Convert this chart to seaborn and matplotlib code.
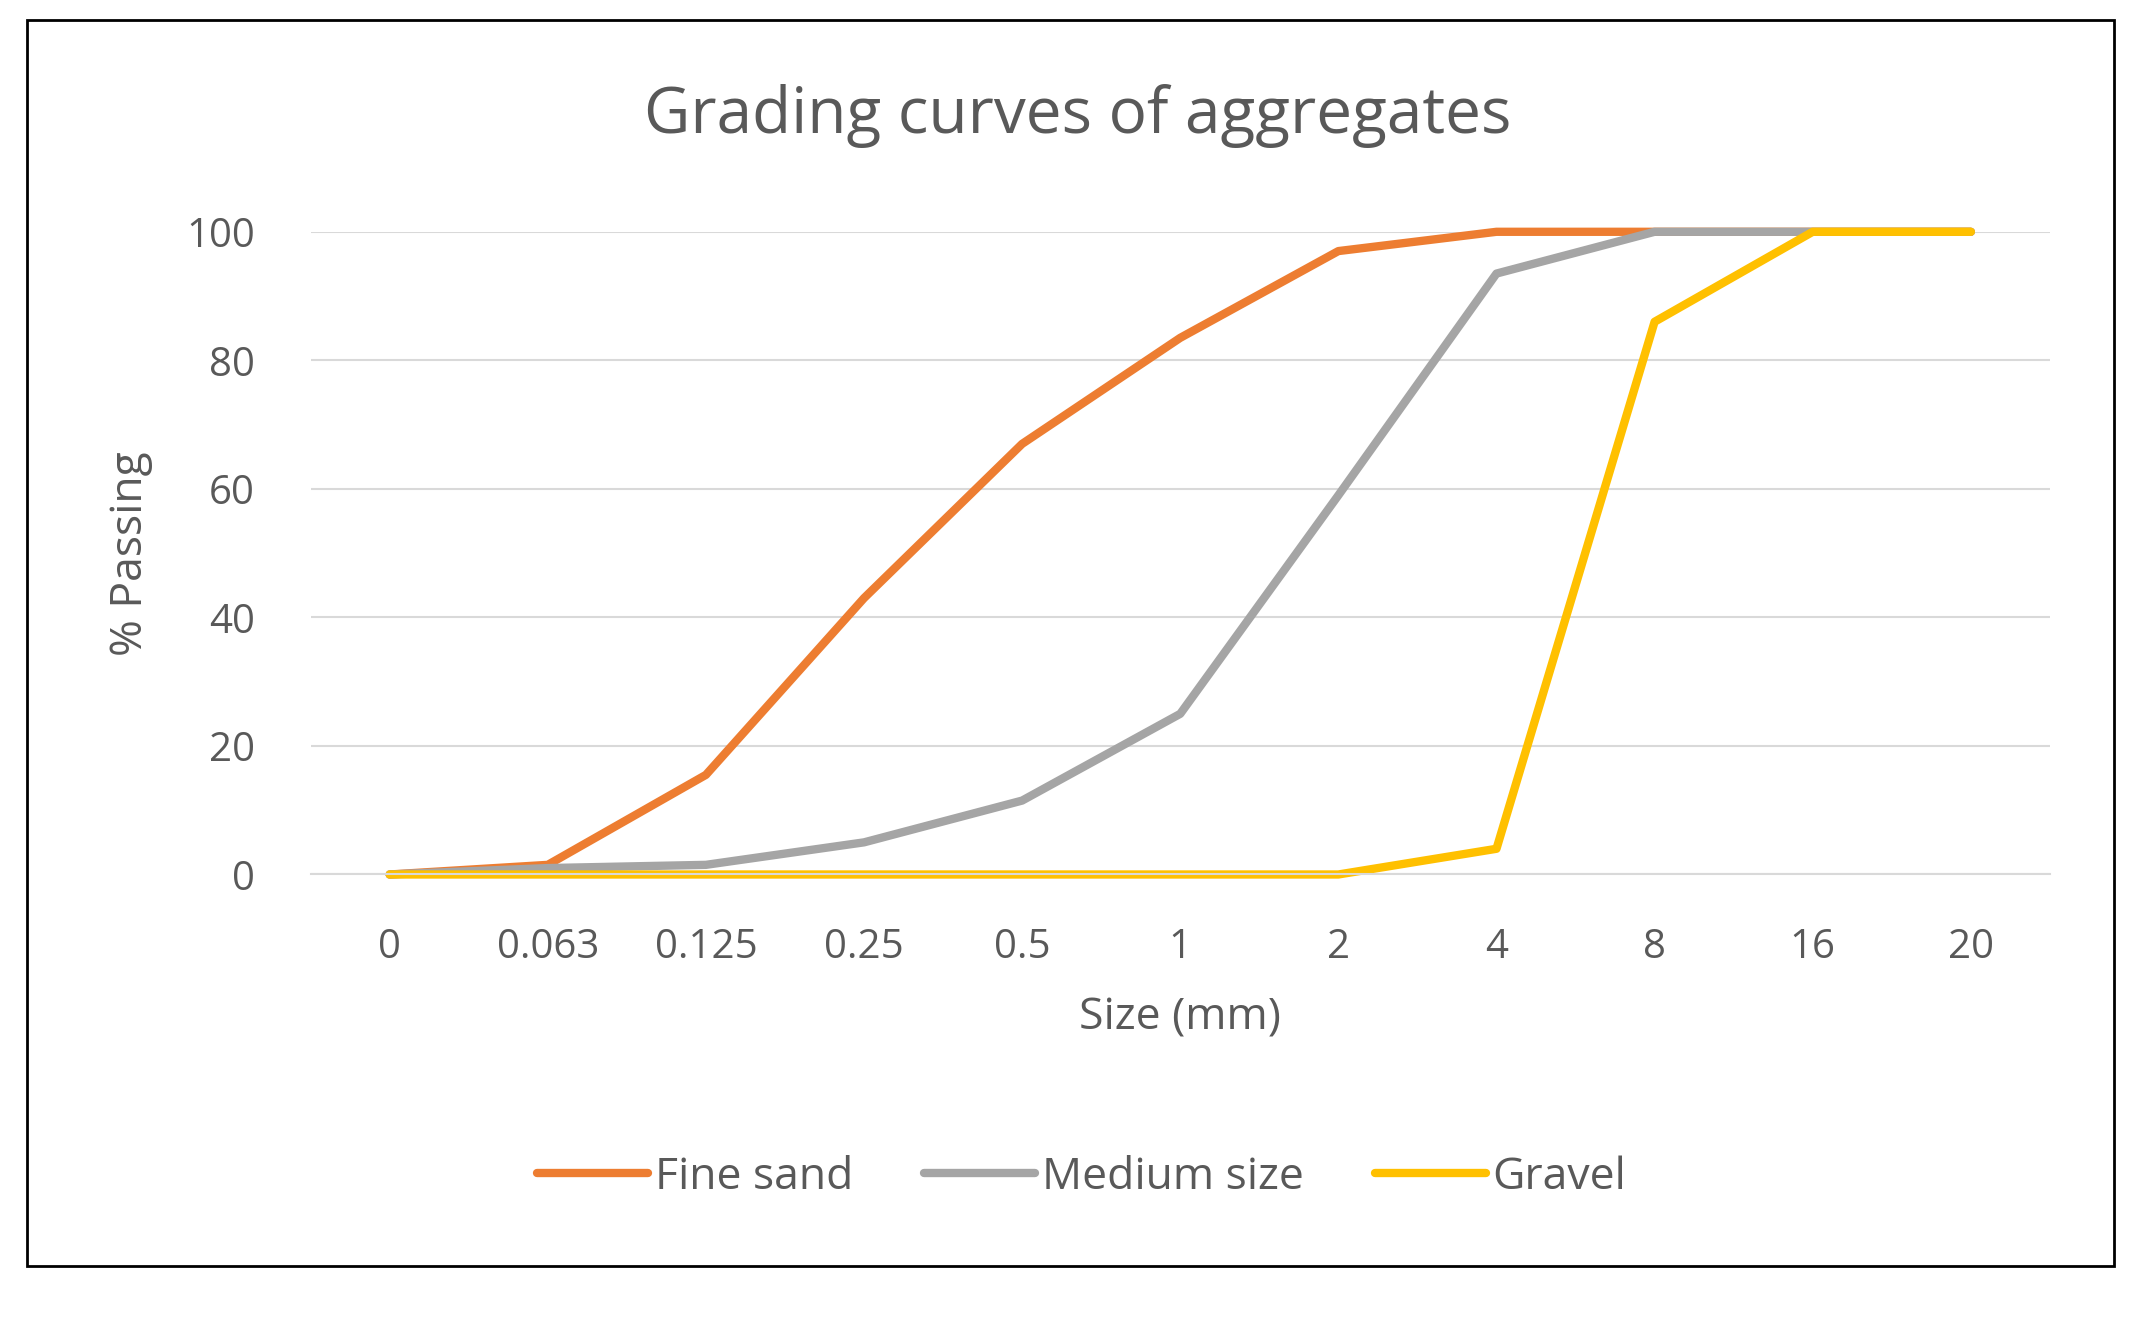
import matplotlib
matplotlib.use("Agg")
import matplotlib.pyplot as plt
import seaborn as sns
import pandas as pd
from matplotlib.patches import Rectangle

sizes = ["0", "0.063", "0.125", "0.25", "0.5", "1", "2", "4", "8", "16", "20"]
fine_sand = [0, 1.5, 15.5, 43, 67, 83.5, 97, 100, 100, 100, 100]
medium_size = [0, 1, 1.5, 5, 11.5, 25, 59, 93.5, 100, 100, 100]
gravel = [0, 0, 0, 0, 0, 0, 0, 4, 86, 100, 100]
series = {"Fine sand": fine_sand, "Medium size": medium_size, "Gravel": gravel}
colors = ["#ED7D31", "#A5A5A5", "#FFC000"]

rows = []
for name, vals in series.items():
    for i, v in enumerate(vals):
        rows.append({"pos": i, "val": v, "Series": name})
df = pd.DataFrame(rows)

sns.set_theme(style="white")
plt.rcParams['font.family'] = ['Open Sans', 'DejaVu Sans']
tc = "#595959"

fig = plt.figure(figsize=(21.42, 13.17), dpi=100)
ax = fig.add_axes([0.145, 0.336, 0.812, 0.488])
sns.lineplot(data=df, x="pos", y="val", hue="Series", palette=colors, linewidth=6,
             ax=ax, legend=True)
ax.set_xlim(-0.5, len(sizes) - 0.5)
ax.set_ylim(0, 100)
ax.set_xticks(range(len(sizes)))
ax.set_xticklabels(sizes)
ax.set_yticks(range(0, 101, 20))
ax.yaxis.grid(True, color="#D9D9D9", linewidth=1.5)
for s in ["top", "right", "left"]:
    ax.spines[s].set_visible(False)
ax.spines["bottom"].set_color("#D9D9D9")
ax.spines["bottom"].set_linewidth(1.5)
ax.tick_params(axis="y", labelsize=29, colors=tc, length=0, pad=40)
ax.tick_params(axis="x", labelsize=29, colors=tc, length=0, pad=38)
ax.set_xlabel("Size (mm)", fontsize=32, color=tc, labelpad=20)
ax.set_ylabel("% Passing", fontsize=32, color=tc, labelpad=24)
for ln in ax.lines:
    ln.set_clip_on(False)

h, l = ax.get_legend_handles_labels()
ax.legend_.remove()
fig.legend(h, l, loc="center", bbox_to_anchor=(0.505, 0.106), ncol=3, frameon=False,
           fontsize=32, labelcolor=tc, handlelength=2.5, columnspacing=1.6, handletextpad=0.15)

fig.text(0.503, 0.912, "Grading curves of aggregates", ha="center", va="center",
         fontsize=46, color=tc)
fig.add_artist(Rectangle((0.0128, 0.039), 0.974, 0.946, transform=fig.transFigure,
                         fill=False, edgecolor="black", linewidth=2))
fig.savefig("out.png", dpi=100)
